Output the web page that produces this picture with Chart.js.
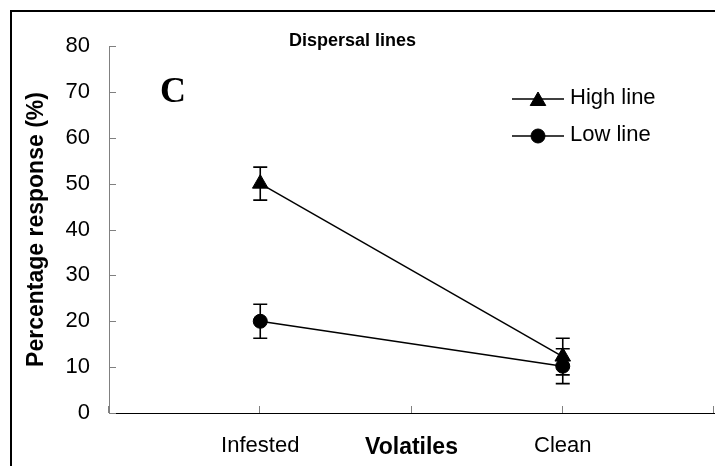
<!DOCTYPE html>
<html>
<head>
<meta charset="utf-8">
<title>Dispersal lines</title>
<script src="https://cdn.jsdelivr.net/npm/chart.js@4.4.0/dist/chart.umd.min.js"></script>
<style>
  html, body { margin: 0; padding: 0; background: #fff; overflow: hidden; }
  canvas { display: block; }
</style>
</head>
<body>
<canvas id="chart" width="715" height="466"></canvas>
<script>
// ── data ──
const categories = ['Infested', 'Clean'];
const highValues = [50, 12.3];
const highErrors = [3.6, 4.0];
const lowValues = [20, 10.2];
const lowErrors = [3.7, 3.8];
const yTickValues = [0, 10, 20, 30, 40, 50, 60, 70, 80];

Chart.defaults.font.family = '"Liberation Sans", Arial, sans-serif';
Chart.defaults.color = '#000';

// white page + black frame on top/left, like the cropped Excel panel
const framePlugin = {
  id: 'frame',
  beforeDraw(chart) {
    const { ctx, width, height } = chart;
    ctx.save();
    ctx.fillStyle = '#fff';
    ctx.fillRect(0, 0, width, height);
    ctx.fillStyle = '#000';
    ctx.fillRect(10, 10, width - 10, 2);
    ctx.fillRect(10, 10, 2, height - 10);
    ctx.restore();
  }
};

// vertical error bars with caps
const errorBarPlugin = {
  id: 'errorBars',
  afterDatasetsDraw(chart) {
    const { ctx } = chart;
    const yScale = chart.scales.y;
    ctx.save();
    ctx.strokeStyle = '#000';
    ctx.lineWidth = 1.6;
    chart.data.datasets.forEach((ds, i) => {
      const meta = chart.getDatasetMeta(i);
      meta.data.forEach((pt, j) => {
        const v = ds.data[j], e = ds.errors[j];
        const yTop = yScale.getPixelForValue(v + e);
        const yBot = yScale.getPixelForValue(v - e);
        const x = pt.x, cap = 7;
        ctx.beginPath();
        ctx.moveTo(x, yTop); ctx.lineTo(x, yBot);
        ctx.moveTo(x - cap, yTop); ctx.lineTo(x + cap, yTop);
        ctx.moveTo(x - cap, yBot); ctx.lineTo(x + cap, yBot);
        ctx.stroke();
      });
    });
    ctx.restore();
  }
};

// Excel style tick marks pointing into the plot
const insideTicksPlugin = {
  id: 'insideTicks',
  afterDraw(chart) {
    const { ctx } = chart;
    const { x: xScale, y: yScale } = chart.scales;
    const len = 7;
    ctx.save();
    ctx.strokeStyle = '#808080';
    ctx.lineWidth = 1;
    ctx.beginPath();
    yScale.ticks.forEach(t => {
      const y = Math.round(yScale.getPixelForValue(t.value)) + 0.5;
      ctx.moveTo(yScale.right, y);
      ctx.lineTo(yScale.right + len, y);
    });
    for (let v = -0.5; v <= categories.length - 0.5; v += 0.5) {
      const x = Math.round(xScale.getPixelForValue(v)) - 0.5;
      ctx.moveTo(x, xScale.top);
      ctx.lineTo(x, xScale.top - len);
    }
    ctx.stroke();
    ctx.restore();
  }
};

// chart title, panel letter and line+marker legend
const panelTextPlugin = {
  id: 'panelText',
  afterDraw(chart, args, opts) {
    const { ctx, chartArea } = chart;
    ctx.save();
    ctx.fillStyle = '#000';
    ctx.textAlign = 'center';
    ctx.textBaseline = 'alphabetic';
    ctx.font = 'bold 18px "Liberation Sans", Arial, sans-serif';
    ctx.fillText(opts.title, 352.5, 46);

    ctx.textAlign = 'left';
    ctx.font = 'bold 36px "Liberation Serif", "Times New Roman", serif';
    ctx.fillText(opts.panel, chartArea.left + 51, 102);

    ctx.font = '22px "Liberation Sans", Arial, sans-serif';
    ctx.textBaseline = 'middle';
    chart.data.datasets.forEach((ds, i) => {
      const y = 99 + i * 37;
      const x0 = 512, lineLen = 52;
      ctx.strokeStyle = ds.borderColor;
      ctx.lineWidth = ds.borderWidth;
      ctx.beginPath();
      ctx.moveTo(x0, y); ctx.lineTo(x0 + lineLen, y);
      ctx.stroke();
      ctx.fillStyle = ds.pointBackgroundColor;
      ctx.strokeStyle = ds.pointBorderColor;
      ctx.lineWidth = 1;
      Chart.helpers.drawPoint(ctx, {
        pointStyle: ds.pointStyle, radius: ds.pointRadius, rotation: 0, borderWidth: 1
      }, x0 + lineLen / 2, y + (ds.pointStyle === 'triangle' ? 2 : 0));
      ctx.fillStyle = '#000';
      ctx.fillText(ds.label, x0 + lineLen + 6, y - 1.5);
    });
    ctx.restore();
  }
};

const ctx = document.getElementById('chart').getContext('2d');
new Chart(ctx, {
  type: 'line',
  data: {
    labels: categories,
    datasets: [
      {
        label: 'High line',
        data: highValues,
        errors: highErrors,
        borderColor: '#000',
        borderWidth: 1.5,
        pointStyle: 'triangle',
        pointRadius: 9,
        pointHoverRadius: 9,
        pointBackgroundColor: '#000',
        pointBorderColor: '#000',
        pointBorderWidth: 1,
        tension: 0,
        fill: false
      },
      {
        label: 'Low line',
        data: lowValues,
        errors: lowErrors,
        borderColor: '#000',
        borderWidth: 1.5,
        pointStyle: 'circle',
        pointRadius: 7,
        pointHoverRadius: 7,
        pointBackgroundColor: '#000',
        pointBorderColor: '#000',
        pointBorderWidth: 1,
        tension: 0,
        fill: false
      }
    ]
  },
  options: {
    responsive: false,
    animation: false,
    events: [],
    layout: { autoPadding: false, padding: { top: 46, right: 1, bottom: 0, left: 0 } },
    plugins: {
      legend: { display: false },
      tooltip: { enabled: false },
      panelText: { title: 'Dispersal lines', panel: 'C' }
    },
    scales: {
      x: {
        type: 'category',
        offset: true,
        grid: { display: true, drawOnChartArea: false, drawTicks: false, offset: true },
        border: { display: true, color: '#000', width: 1 },
        ticks: { font: { size: 22 }, color: '#000', padding: 20, maxRotation: 0, autoSkip: false },
        title: {
          display: true,
          text: 'Volatiles',
          color: '#000',
          font: { size: 23, weight: 'bold' },
          padding: { top: 0, bottom: 5 }
        },
        afterFit: s => { s.height = 53; }
      },
      y: {
        min: yTickValues[0],
        max: yTickValues[yTickValues.length - 1],
        afterBuildTicks: s => { s.ticks = yTickValues.map(v => ({ value: v })); },
        grid: { display: true, drawOnChartArea: false, drawTicks: false },
        border: { display: true, color: '#808080', width: 1 },
        ticks: { font: { size: 22 }, color: '#000', padding: 19 },
        title: {
          display: true,
          text: 'Percentage response (%)',
          color: '#000',
          font: { size: 23, weight: 'bold' },
          padding: { top: 23, bottom: 0 }
        },
        afterFit: s => { s.width = 109; }
      }
    }
  },
  plugins: [framePlugin, errorBarPlugin, insideTicksPlugin, panelTextPlugin]
});
</script>
</body>
</html>
